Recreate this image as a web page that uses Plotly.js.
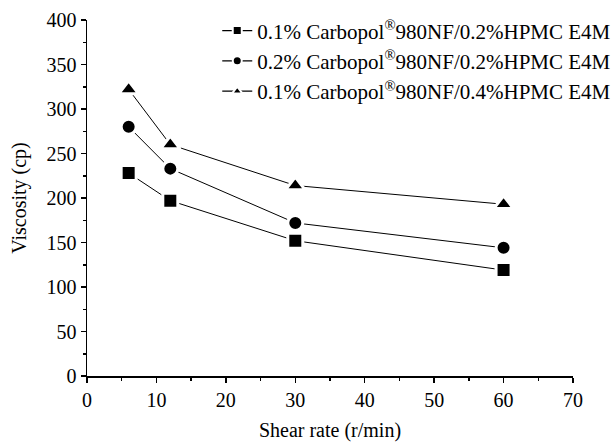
<!DOCTYPE html>
<html><head><meta charset="utf-8">
<script src="https://cdn.plot.ly/plotly-3.0.1.min.js"></script>
<style>body{margin:0;background:#fff}#c{width:616px;height:447px}
.legend .traces{opacity:1 !important}</style>
</head><body><div id="c"></div>
<script>
const shearRate = [6, 12, 30, 60];
const visA = [228, 197, 152, 119];
const visB = [280, 233, 172, 144];
const visC = [322, 260, 214, 193];
const names = [
  "0.1% Carbopol<sup>®</sup>980NF/0.2%HPMC E4M",
  "0.2% Carbopol<sup>®</sup>980NF/0.2%HPMC E4M",
  "0.1% Carbopol<sup>®</sup>980NF/0.4%HPMC E4M"
];
const symbols = ["square", "circle", "triangle-up"];
const sizes = [15, 15, 17];
const series = [visA, visB, visC];
const traces = [];
series.forEach((v, i) => {
  traces.push({
    x: shearRate, y: v, name: names[i], type: "scatter", mode: "lines+markers",
    showlegend: false,
    line: {color: "#000", width: 1},
    marker: {symbol: symbols[i], size: sizes[i], color: "#000", line: {color: "#fff", width: 3}}
  });
});
series.forEach((v, i) => {
  traces.push({
    x: shearRate, y: v, name: names[i], type: "scatter", mode: "lines+markers",
    visible: "legendonly",
    line: {color: "#000", width: 1.2},
    marker: {symbol: symbols[i], size: 9, color: "#000", line: {color: "#fff", width: 2}}
  });
});
const fam = "Liberation Serif, Times New Roman, serif";
const layout = {
  width: 616, height: 447,
  margin: {l: 87, r: 43, t: 20, b: 71, autoexpand: false},
  paper_bgcolor: "#fff", plot_bgcolor: "#fff",
  font: {family: fam, color: "#000", size: 20},
  showlegend: true,
  legend: {x: 0.268, y: 1.027, xanchor: "left", yanchor: "top", bgcolor: "rgba(0,0,0,0)",
           font: {family: fam, size: 21, color: "#000"}, tracegroupgap: 0, itemclick: false},
  xaxis: {
    range: [0, 70], dtick: 10, tick0: 0, showgrid: false, zeroline: false,
    showline: true, linecolor: "#000", linewidth: 1.5,
    ticks: "outside", ticklen: 5, tickwidth: 1.5, tickcolor: "#000",
    minor: {dtick: 5, ticks: "outside", ticklen: 3, tickcolor: "#000", tickwidth: 1.5, showgrid: false},
    title: {text: "Shear rate (r/min)", font: {family: fam, size: 20}, standoff: 13},
    tickfont: {family: fam, size: 20}
  },
  yaxis: {
    range: [0, 400], dtick: 50, tick0: 0, showgrid: false, zeroline: false,
    showline: true, linecolor: "#000", linewidth: 1.5,
    ticks: "outside", ticklen: 5, tickwidth: 1.5, tickcolor: "#000",
    minor: {dtick: 25, ticks: "outside", ticklen: 3, tickcolor: "#000", tickwidth: 1.5, showgrid: false},
    title: {text: "Viscosity (cp)", font: {family: fam, size: 20}, standoff: 14},
    tickfont: {family: fam, size: 20}
  }
};
Plotly.newPlot("c", traces, layout, {displayModeBar: false, staticPlot: true});
</script></body></html>
